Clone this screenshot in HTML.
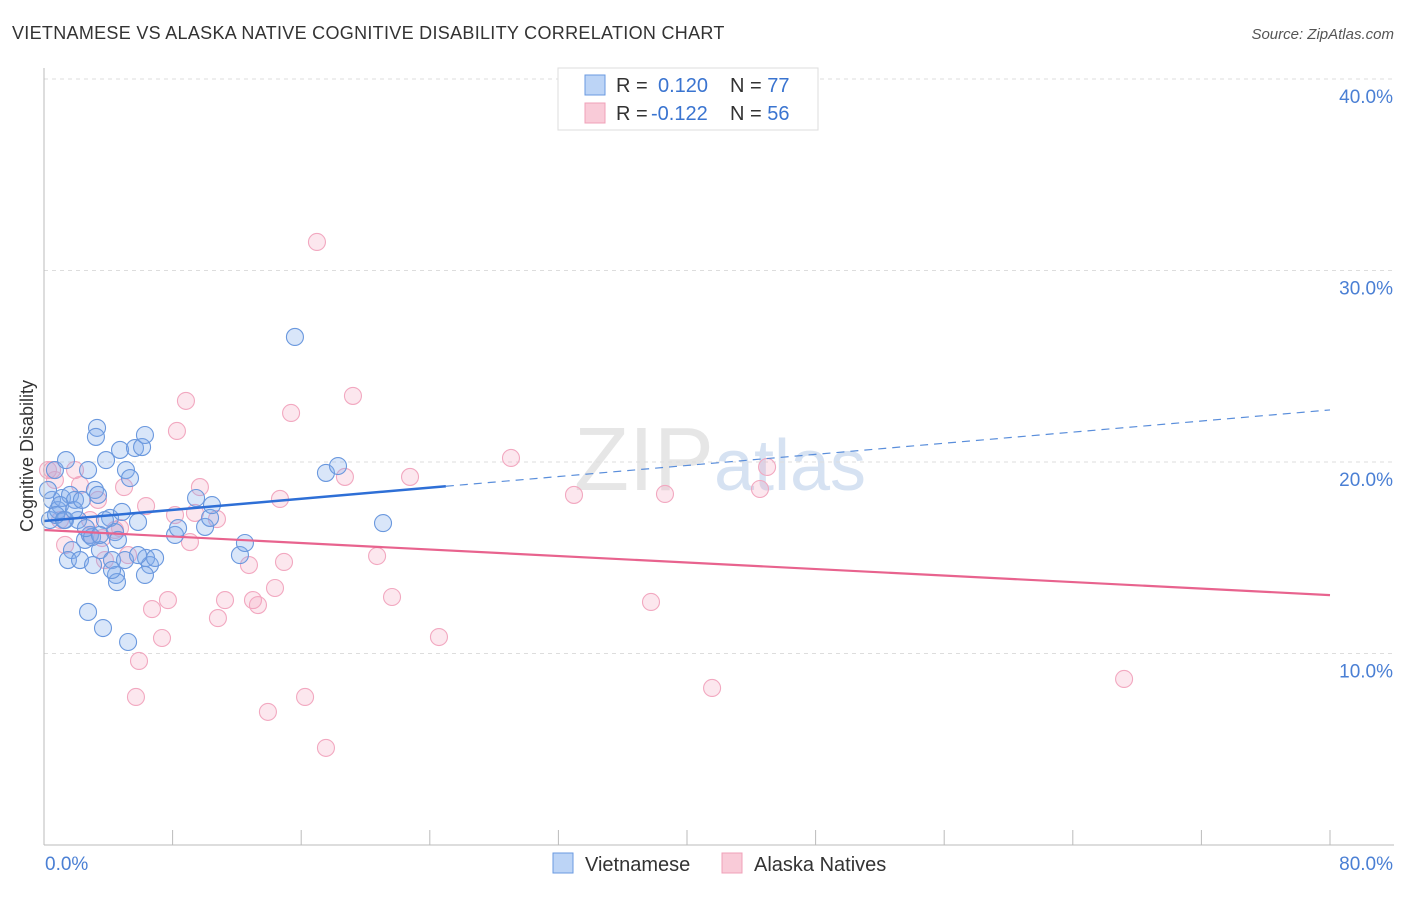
<!DOCTYPE html>
<html><head><meta charset="utf-8"><style>
body{margin:0;background:#fff;font-family:"Liberation Sans",sans-serif}
svg text{font-family:"Liberation Sans",sans-serif}
</style></head><body>
<svg id="chart" width="1406" height="892">
<text x="12" y="39" font-size="18" fill="#333" letter-spacing="0.3">VIETNAMESE VS ALASKA NATIVE COGNITIVE DISABILITY CORRELATION CHART</text>
<text x="1394" y="39" font-size="15" fill="#555" font-style="italic" text-anchor="end">Source: ZipAtlas.com</text>
<text x="720" y="490" font-size="90" fill="#e6e6e6" text-anchor="middle" font-family="Liberation Serif">ZIP<tspan fill="#d6e2f2" font-family="Liberation Sans" font-size="72">atlas</tspan></text>
<g id="grid"></g><g id="pts"></g><g id="lines"></g>
<line x1="44" y1="68" x2="44" y2="845" stroke="#bbb"/>
<line x1="44" y1="845" x2="1394" y2="845" stroke="#bbb"/>
<text x="33" y="456" font-size="18" fill="#333" text-anchor="middle" transform="rotate(-90 33 456)">Cognitive Disability</text>
<text x="45" y="870" font-size="19" fill="#4a7fd4">0.0%</text>
<text x="1393" y="870" font-size="19" fill="#4a7fd4" text-anchor="end">80.0%</text>
<g>
<rect x="558" y="68" width="260" height="62" fill="#fff" stroke="#ddd"/>
<rect x="585" y="75" width="20" height="20" fill="#bcd4f6" stroke="#6a9ae0"/>
<rect x="585" y="103" width="20" height="20" fill="#f9cbd8" stroke="#f0a0b8"/>
<text x="616" y="92" font-size="20" fill="#333">R = <tspan x="658" fill="#3a74d0">0.120</tspan><tspan x="730">N = </tspan><tspan fill="#3a74d0">77</tspan></text>
<text x="616" y="120" font-size="20" fill="#333">R = <tspan x="651" fill="#3a74d0">-0.122</tspan><tspan x="730">N = </tspan><tspan fill="#3a74d0">56</tspan></text>
</g>
<g>
<rect x="553" y="853" width="20" height="20" fill="#bcd4f6" stroke="#6a9ae0"/>
<text x="585" y="871" font-size="20" fill="#333">Vietnamese</text>
<rect x="722" y="853" width="20" height="20" fill="#f9cbd8" stroke="#f0a0b8"/>
<text x="754" y="871" font-size="20" fill="#333">Alaska Natives</text>
</g>
</svg>
<script>
const yTicks=[10,20,30,40];
const yTickLabels=["10.0%","20.0%","30.0%","40.0%"];
const xTicks=[0,8,16,24,32,40,48,56,64,72,80];
const blueX=[0.68,0.50,0.37,0.87,1.12,1.31,1.37,1.62,1.74,1.49,1.93,2.12,2.24,2.55,2.74,2.74,2.86,3.05,3.17,3.30,3.23,3.48,3.67,3.86,4.11,4.23,4.42,4.48,4.54,4.73,4.85,5.10,5.23,5.35,5.04,5.66,5.85,6.10,6.28,6.35,6.59,6.91,6.28,8.15,8.34,9.46,10.02,10.33,10.45,12.19,12.50,15.61,17.54,18.29,21.09,1.00,0.75,0.25,1.24,1.87,2.36,2.99,3.36,3.79,2.61,3.48,4.60,5.85,4.23];
const blueY=[19.58,18.02,16.97,17.49,18.12,16.97,20.10,18.28,15.40,14.88,18.02,16.97,14.88,15.93,19.58,12.17,16.19,14.62,18.54,21.78,21.31,15.40,11.33,20.10,17.08,14.88,16.34,14.10,13.73,20.63,17.39,19.58,10.60,19.16,14.88,20.73,16.87,20.78,21.41,14.99,14.62,14.99,14.10,16.19,16.55,18.12,16.61,17.08,17.75,15.14,15.77,26.53,19.43,19.79,16.81,17.75,17.23,18.54,16.97,17.49,18.02,16.08,18.28,16.97,16.55,16.19,15.93,15.14,14.36];
const pinkX=[16.98,19.22,8.83,15.37,8.27,29.05,44.98,1.93,0.50,22.77,18.72,32.97,38.63,44.54,4.98,9.70,3.36,2.24,14.68,6.35,8.15,10.76,9.39,0.68,1.00,4.42,2.86,3.61,9.08,1.31,5.23,3.79,20.72,12.75,14.93,14.37,21.65,13.00,7.71,11.26,13.31,6.72,10.82,37.76,24.57,7.34,5.91,41.56,67.19,16.24,5.72,13.93,17.54,0.25,4.73,2.86];
const pinkY=[31.49,23.45,23.19,22.56,21.62,20.21,19.74,19.58,19.58,19.22,19.22,18.28,18.33,18.59,18.69,18.69,18.02,18.80,18.07,17.70,17.23,17.02,17.34,19.06,16.97,16.45,16.19,16.03,15.82,15.67,15.14,14.88,15.09,14.62,14.78,13.42,12.95,12.79,12.79,12.79,12.53,12.32,11.85,12.69,10.86,10.81,9.61,8.20,8.67,7.73,7.73,6.95,5.07,19.58,16.55,16.97];
const blueTrend=[16.92,22.72];
const pinkTrend=[16.45,13.05];
const NS="http://www.w3.org/2000/svg";
const sx=v=>44+v*16.075, sy=v=>845-v*19.15;
function mk(t,a,p){const e=document.createElementNS(NS,t);for(const k in a)e.setAttribute(k,a[k]);p.appendChild(e);return e;}
const grid=document.getElementById('grid');
yTicks.forEach((t,i)=>{
 const l=mk('line',{x1:44,x2:1394,y1:sy(t),y2:sy(t),stroke:'#ddd','stroke-dasharray':'4,4'},grid);
 
 
 const tx=mk('text',{x:1393,y:sy(t)+24,'font-size':19,fill:'#4a7fd4','text-anchor':'end'},grid);
 tx.textContent=yTickLabels[i];
 
 
});
xTicks.forEach(t=>{
 const l=mk('line',{x1:sx(t),x2:sx(t),y1:830,y2:845,stroke:'#bbb'},grid);
 
 
});
const pts=document.getElementById('pts');
pinkX.forEach((x,i)=>{
 const c=mk('circle',{cx:sx(x),cy:sy(pinkY[i]),r:8.5,fill:'rgba(244,160,188,0.25)',stroke:'#f2a8c0','stroke-width':1.1},pts);
 
 
});
blueX.forEach((x,i)=>{
 const c=mk('circle',{cx:sx(x),cy:sy(blueY[i]),r:8.5,fill:'rgba(130,172,235,0.3)',stroke:'#6a98de','stroke-width':1.1},pts);
 
 
});
const lines=document.getElementById('lines');
const bAt=x=>blueTrend[0]+(blueTrend[1]-blueTrend[0])*x/80;
let l1=mk('line',{x1:sx(0),y1:sy(bAt(0)),x2:sx(25),y2:sy(bAt(25)),stroke:'#2e6fd6','stroke-width':2.5},lines);


let l2=mk('line',{x1:sx(25),y1:sy(bAt(25)),x2:sx(80),y2:sy(bAt(80)),stroke:'#5a8edb','stroke-width':1.2,'stroke-dasharray':'8,6'},lines);


let l3=mk('line',{x1:sx(0),y1:sy(pinkTrend[0]),x2:sx(80),y2:sy(pinkTrend[1]),stroke:'#e8638e','stroke-width':2.2},lines);


</script>
</body></html>
